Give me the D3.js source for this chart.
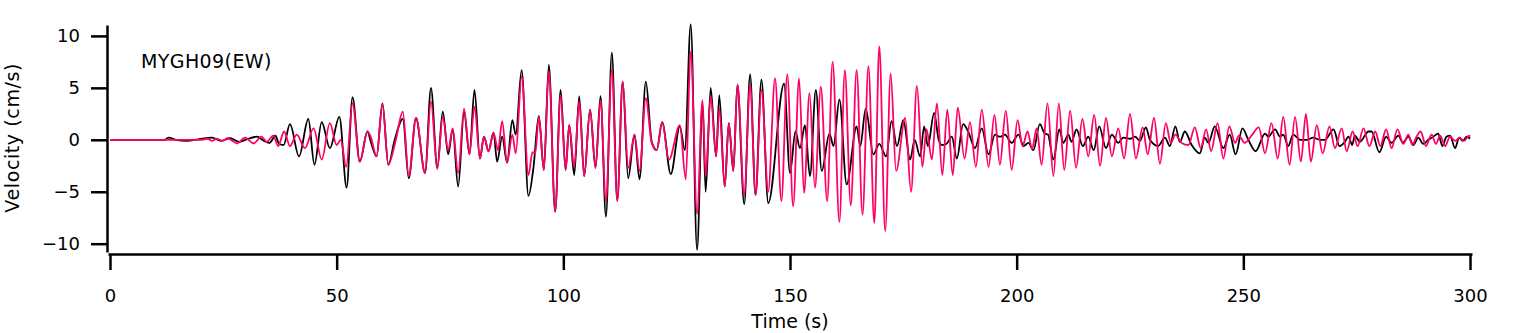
<!DOCTYPE html>
<html>
<head>
<meta charset="utf-8">
<script src="https://cdn.jsdelivr.net/npm/d3@7"></script>
<style>
  body { margin: 0; background: #fff; }
  text { font-family: "DejaVu Sans", sans-serif; fill: #000; }
</style>
</head>
<body>
<svg width="1521" height="333"></svg>
<script>
const svg = d3.select('svg');

// station label and tick values
const stationLabel = 'MYGH09(EW)';
const xTicks = [0, 50, 100, 150, 200, 250, 300];
const yTicks = [-10, -5, 0, 5, 10];

// observed trace (black): [time s, velocity cm/s] read at turning points
const observed = [
  [0, 0], [12, 0], [13, 0.2], [14.5, 0], [17, -0.1], [19.5, 0.05], [22.5, 0.2], [24.5, -0.1],
  [26.5, 0.15], [28.5, -0.2], [30.5, 0.1], [32.4, 0.3], [34, -0.1], [35.2, -0.3], [36.5, 0.4],
  [37.3, -0.4], [38.3, -0.5], [39.7, 1.5], [41.7, -1.6], [43.75, 2.0], [45.1, -2.4], [46.7, 1.7],
  [48.5, -0.8], [50.6, 2.2], [52.2, -4.6], [53.5, 4.1], [55.1, -2.1], [56.8, 0.8], [57.6, -0.3],
  [58.8, -1.6], [60.1, 3.5], [61.4, -2.4], [62.8, 0], [64.6, 2.0], [65.9, -3.7], [67.5, 2.1],
  [69.5, -3.2], [70.8, 5.0], [72.2, -2.7], [73.4, 2.7], [74.6, -1.4], [75.6, 1.0], [76.8, -4.5],
  [78.1, 2.7], [79.3, -1.4], [80.4, 4.8], [81.6, -1.8], [82.5, 0.3], [83.5, -1.1], [84.6, 0.7],
  [85.4, -2.1], [86.5, 0.3], [87.6, -2.2], [88.75, 1.9], [89.5, 0.5], [90.8, 6.7], [92.3, -5.4],
  [93.4, -2.7], [94.6, 2.3], [95.7, -2.9], [96.8, 7.2], [98.2, -6.9], [99.4, 4.8], [100.5, -2.9],
  [101.3, 1.4], [102.4, -3.4], [103.5, 4.2], [104.6, -3.5], [105.9, 2.9], [107.1, -2.7],
  [108.2, 4.2], [109.4, -7.4], [110.7, 8.4], [111.9, -5.8], [113.1, 5.6], [114.3, -3.7],
  [115.7, 0.5], [116.8, -3.8], [118.2, 5.6], [119.5, -0.2], [120.6, -1.0], [121.8, 1.7],
  [123.7, -3.3], [125.7, 1.3], [126.8, -1.0], [128.1, 11.1], [129.5, -10.6], [130.7, 3.5],
  [131.4, -5.0], [132.5, 5.0], [133.7, -1.6], [134.4, 4.3], [135.6, -4.5], [136.5, 1.6],
  [137.5, -3.0], [138.4, 5.3], [139.9, -6.2], [141.2, 6.3], [142.4, -5.3], [143.7, 5.8],
  [145.2, -6.1], [148.7, 5.4], [150, -3.2], [151.2, 0.8], [152.2, -0.8], [153.3, 1.4],
  [154.4, -3.5], [155.7, 4.8], [157, -3.0], [158.7, 0.6], [159.6, -0.6], [160.9, 3.9],
  [162.5, -4.3], [164.7, 1.3], [165.5, -0.6], [166.7, 3.0], [168.4, -1.4], [169.7, -0.4],
  [171.2, -1.6], [172.4, 1.8], [173.6, -0.6], [175, 1.9], [176.5, -1.9], [177.5, 0],
  [178.7, -1.6], [179.6, 1.3], [180.4, -0.6], [181.8, 2.6], [182.8, 0], [183.5, -0.5],
  [184.5, -0.4], [185.7, 0.3], [186.8, -1.8], [188.2, 1.5], [189.3, 0.8], [190.8, -0.8],
  [192.3, 1.1], [193.8, -1.4], [195.2, 0.5], [196.3, 0.3], [197.4, 0.5], [198.9, -0.3],
  [200.4, 0.5], [201.5, -0.6], [202.6, -0.3], [203.7, -1.0], [205.1, 1.5], [206.2, 0.6],
  [206.9, 0.5], [208.1, -1.9], [209.4, 1.0], [210.3, -0.3], [211.4, 0.5], [212.1, -0.2],
  [213.2, 1.0], [214.6, -0.6], [215.8, 0.3], [217, -1.0], [218.2, 1.3], [219.7, -0.8],
  [221, 0.5], [222.4, -0.3], [223.5, 0.2], [225, 0.1], [226.1, 0.3], [227.2, -0.1],
  [228.5, 1.2], [229.4, 0], [231.2, -0.6], [232.7, 0.2], [233.8, -0.6], [235, 1.3], [236, -0.2],
  [237.1, 0.8], [238.6, -0.5], [240.4, -1.3], [241.5, 0.2], [242.3, -0.3], [243.7, 1.3],
  [245.6, -0.8], [247, 0.5], [248.3, -1.4], [249.8, 1.1], [251.1, 0], [252.7, -1.1],
  [254.8, 0.6], [255.5, 0.3], [257, 1.0], [258.1, 0.3], [258.8, 0.5], [259.9, -0.6], [261, 0.5],
  [262.5, 0], [264, 0], [265.4, 0.2], [266.9, 0], [268, 0], [269.9, 1.0], [271.2, -0.6],
  [272.4, -0.2], [273.2, 0.3], [274, -0.5], [274.6, 0.4], [275.7, -0.2], [277.6, 0.8],
  [278.3, 0.8], [280, -1.2], [281.5, 0.3], [282.7, -0.3], [284.2, 0.4], [285.2, -0.3],
  [286.4, 0.3], [287.5, -0.5], [288.6, 0.2], [289.7, -0.4], [290.8, 0], [291.9, 0.3],
  [293, 0.6], [293.9, -0.6], [294.8, 0.3], [295.6, 0.4], [296.7, -0.8], [297.6, 0.2],
  [298.4, -0.1], [299.3, 0.3], [300, 0.1]
];

// synthetic trace (pink): [time s, velocity cm/s]
const synthetic = [
  [0, 0], [20, 0], [21.5, 0.1], [22.5, -0.1], [23.5, 0.1], [24.8, -0.1], [26, 0.15], [27, -0.1],
  [28, -0.35], [29.8, 0.2], [31.7, -0.35], [33.4, 0.3], [34.6, -0.2], [36, 0.4], [37.1, -0.6],
  [38.4, 0.8], [39.7, -0.6], [41.2, 0.5], [43, -0.8], [44.9, 1.1], [46.7, -1.9], [48.5, 1.6],
  [50, -0.5], [50.9, 0], [52.1, -2.6], [53.5, 3.5], [55.1, -2.1], [56.8, 0.8], [57.5, 0.3],
  [58.8, -1.6], [60.1, 3.4], [61.4, -2.4], [62.9, -0.3], [64.6, 2.7], [65.9, -3.5], [67.5, 2.1],
  [69.5, -3.2], [70.8, 3.7], [72.2, -2.8], [73.4, 2.2], [74.6, -1.0], [75.6, 1.1], [76.8, -3.2],
  [78.1, 3.0], [79.3, -1.4], [80.4, 3.2], [81.6, -1.8], [82.5, 0.3], [83.5, -1.1], [84.6, 0.7],
  [85.6, -1.0], [86.5, 1.8], [87.6, -2.2], [88.75, 0.5], [89.5, -1.3], [90.8, 6.1], [92.3, -3.4],
  [93.2, -1.2], [93.8, -1.3], [94.6, 2.2], [95.7, -2.9], [96.8, 6.6], [98.2, -6.9], [99.4, 4.3],
  [100.5, -2.9], [101.3, 1.4], [102.4, -2.6], [103.5, 3.7], [104.6, -3.5], [105.9, 2.9],
  [107.1, -2.7], [108.2, 3.8], [109.4, -5.9], [110.7, 6.7], [111.9, -5.9], [113.1, 5.6],
  [114.3, -2.7], [115.7, 0.5], [116.8, -3.0], [118.2, 4.0], [119.5, -0.3], [120.6, -1.0],
  [121.8, 1.7], [123.3, -1.9], [125.7, 1.4], [127, -3.8], [128.1, 8.5], [129.5, -7.1],
  [130.7, 3.8], [131.4, -3.5], [132.5, 4.2], [133.7, -1.6], [134.4, 3.0], [135.6, -4.5],
  [136.5, 1.6], [137.5, -3.0], [138.4, 5.3], [139.9, -5.3], [141.2, 5.3], [142.4, -5.3],
  [143.7, 4.8], [145.2, -5.0], [146.7, 5.9], [148.1, -5.9], [149.4, 6.3], [150.7, -6.4],
  [152, 5.9], [153.1, -5.1], [154.3, 4.5], [155.5, -4.6], [156.8, 5.1], [158.2, -5.9],
  [159.4, 7.5], [160.9, -7.9], [162.1, 6.7], [163.4, -6.3], [164.7, 6.7], [166, -7.2],
  [167.3, 7.1], [168.6, -8.0], [169.7, 9.0], [171, -8.8], [172.2, 6.4], [173.4, -3.0],
  [175.4, 2.1], [176.7, -5.0], [178, 5.2], [179.2, -2.6], [180.1, 1.0], [181.3, -1.9],
  [182.4, 3.5], [183.6, -3.4], [184.7, 2.9], [185.9, -3.4], [187, 3.1], [188.5, -1.8],
  [189.7, 1.7], [191, -2.6], [192.3, 2.9], [193.8, -2.6], [195.1, 2.4], [196.3, -2.4],
  [197.6, 2.8], [198.9, -2.9], [200.2, 1.9], [201.3, -0.6], [202.4, 0.8], [203.4, -0.9],
  [204.4, 1.1], [205.5, -2.4], [206.8, 3.5], [208.1, -3.5], [209.3, 3.5], [210.5, -2.9],
  [211.8, 2.8], [213.1, -2.7], [214.5, 2.0], [215.8, -1.6], [217.1, 2.4], [218.4, -2.5],
  [219.7, 2.1], [221, -1.6], [222.4, 1.1], [223.7, -1.8], [225, 2.5], [226.3, -1.8],
  [227.8, 1.2], [228.9, -1.4], [230.3, 2.1], [231.6, -2.3], [232.9, 1.6], [234, -0.3],
  [235, 0.5], [236.4, -0.3], [237.9, -0.5], [239.3, 1.2], [240.6, -0.8], [241.8, 1.0],
  [242.9, -1.1], [244.3, 1.6], [245.6, -1.8], [246.9, 1.3], [248.2, -0.3], [249, 0.4],
  [250.3, -0.3], [251.8, 0.4], [253.4, 1.2], [254.8, -1.3], [256.2, 1.6], [257.6, -1.8],
  [258.8, 2.2], [260.2, -2.4], [261.4, 2.2], [262.7, -2.1], [263.8, 2.5], [264.9, -2.1],
  [266.2, 1.4], [267.5, -1.3], [269, 1.3], [270.2, -0.8], [271.7, 1.1], [272.8, -1.1],
  [274.1, 0.8], [275.2, -0.6], [276.5, 1.1], [277.8, -0.6], [279.1, 0.8], [280.2, -0.6],
  [281.5, 1.0], [282.7, -0.8], [284, 1.0], [285.3, -0.4], [286.4, 0.5], [287.3, -0.5],
  [288.2, 0.3], [289.1, 0.8], [290.3, -0.6], [291.5, 0.5], [292.5, -0.4], [293.4, 0.4],
  [294.5, -0.6], [295.6, 0.3], [296.7, -0.1], [297.7, 0.2], [298.7, -0.1], [299.8, 0.4], [300, 0.3]
];

// axis ranges as in the original plot (slightly wider than the tick span)
const xScale = d3.scaleLinear().domain([-0.44, 300.44]).range([108, 1472]);
const yScale = d3.scaleLinear().domain([-10.8, 11.05]).range([252, 25]);

const line = d3.line()
  .x(d => xScale(d[0]))
  .y(d => yScale(d[1]))
  .curve(d3.curveMonotoneX);

// y axis
const yAxisG = svg.append('g')
  .attr('transform', 'translate(107,0)')
  .call(d3.axisLeft(yScale).tickValues(yTicks).tickSize(16).tickSizeOuter(0).tickPadding(11)
    .tickFormat(d => d < 0 ? '\u2212' + Math.abs(d) : d));

// x axis
const xAxisG = svg.append('g')
  .attr('transform', 'translate(0,254)')
  .call(d3.axisBottom(xScale).tickValues(xTicks).tickSize(16).tickSizeOuter(0).tickPadding(19));

[yAxisG, xAxisG].forEach(g => {
  g.select('.domain').attr('stroke', '#000').attr('stroke-width', 2.5);
  g.selectAll('.tick line').attr('stroke', '#000').attr('stroke-width', 2.5);
  g.selectAll('.tick text').attr('font-size', 18).attr('font-family', '"DejaVu Sans", sans-serif').attr('fill', '#000');
});

// traces
svg.append('path')
  .datum(observed)
  .attr('d', line)
  .attr('fill', 'none')
  .attr('stroke', '#000')
  .attr('stroke-width', 1.8);

svg.append('path')
  .datum(synthetic)
  .attr('d', line)
  .attr('fill', 'none')
  .attr('stroke', '#ff0066')
  .attr('stroke-width', 1.8);

// labels
svg.append('text')
  .attr('x', 141)
  .attr('y', 68)
  .attr('font-size', 19)
  .attr('letter-spacing', 0.4)
  .text(stationLabel);

svg.append('text')
  .attr('x', (xScale(0) + xScale(300)) / 2)
  .attr('y', 328)
  .attr('text-anchor', 'middle')
  .attr('font-size', 19)
  .text('Time (s)');

svg.append('text')
  .attr('transform', `translate(19, ${yScale(0) - 2}) rotate(-90)`)
  .attr('text-anchor', 'middle')
  .attr('font-size', 19)
  .attr('letter-spacing', 0.6)
  .text('Velocity (cm/s)');
</script>
</body>
</html>
